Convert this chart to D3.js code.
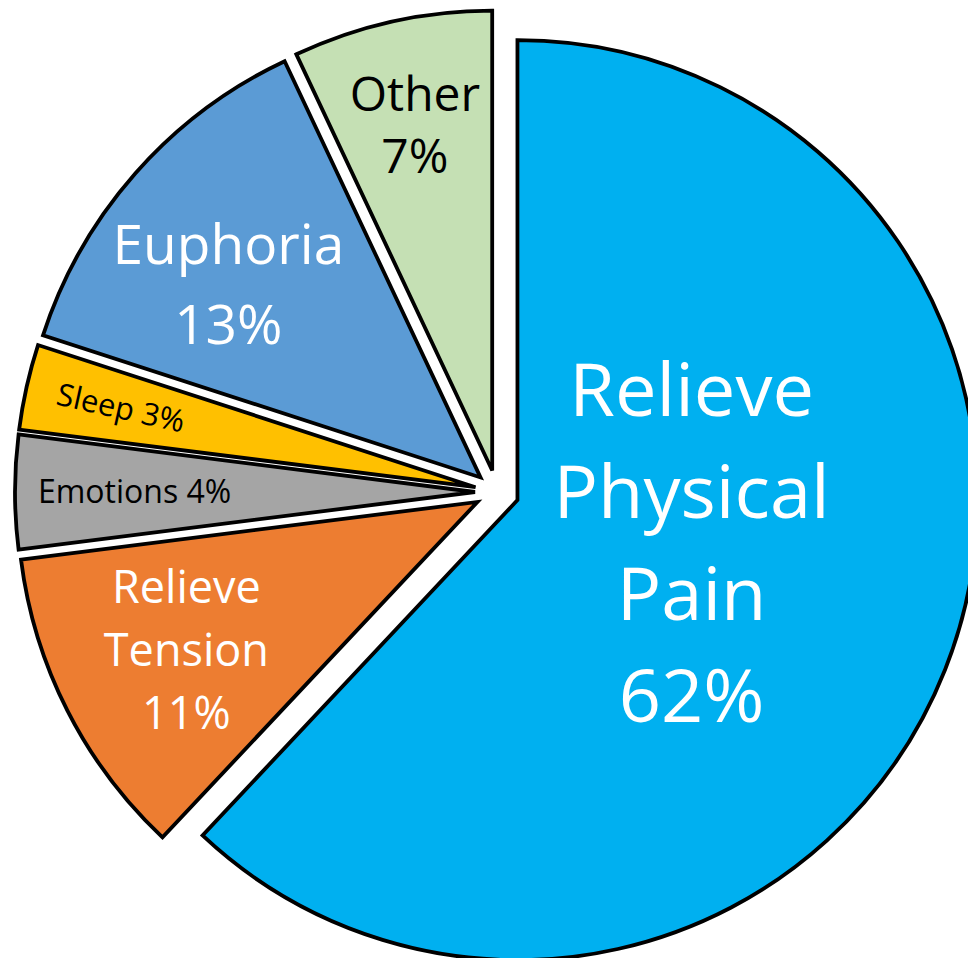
<!DOCTYPE html>
<html>
<head>
<meta charset="utf-8">
<script src="https://cdn.jsdelivr.net/npm/d3@7"></script>
<style>
  html, body { margin: 0; padding: 0; background: #fff; overflow: hidden; }
  svg text { font-family: "Open Sans", sans-serif; }
</style>
</head>
<body>
<div id="chart"></div>
<script>
var categories = ["Relieve Physical Pain", "Relieve Tension", "Emotions", "Sleep", "Euphoria", "Other"];
var percents = [62, 11, 4, 3, 13, 7];
var colors = ["#00B0F0", "#ED7D31", "#A5A5A5", "#FFC000", "#5B9BD5", "#C5E0B4"];
var textColors = ["#fff", "#fff", "#000", "#000", "#fff", "#000"];

// label layout: font size, line step, radius fraction, angle nudge (deg)
var fontSizes = [74, 45, 32, 31, 55, 48];
var lineSteps = [102, 63, 0, 0, 80, 62];
var labelRadius = [0.39, 0.71, 0.74, 0.79, 0.69, 0.77];
var labelNudge = [-7.7, 0, 0, 0, -4, 0];

var width = 968, height = 958;
var cx = 497, cy = 492, radius = 460, explode = 22;

var svg = d3.select("#chart")
  .append("svg")
    .attr("width", width)
    .attr("height", height);

var pie = d3.pie()
  .sort(null)
  .value(function(d) { return d; });

var arc = d3.arc()
  .innerRadius(0)
  .outerRadius(radius);

var slices = pie(percents);

var groups = svg.selectAll("g.slice")
  .data(slices)
  .enter()
  .append("g")
    .attr("class", "slice")
    .attr("transform", function(d) {
      var mid = (d.startAngle + d.endAngle) / 2;
      return "translate(" + (cx + explode * Math.sin(mid)) + "," + (cy - explode * Math.cos(mid)) + ")";
    });

groups.append("path")
  .attr("d", arc)
  .attr("fill", function(d, i) { return colors[i]; })
  .attr("stroke", "#000")
  .attr("stroke-width", 3.8)
  .attr("stroke-linejoin", "miter");

function labelLines(i) {
  if (percents[i] < 5) return [categories[i] + " " + percents[i] + "%"];
  return categories[i].split(" ").concat([percents[i] + "%"]);
}

groups.each(function(d, i) {
  var mid = (d.startAngle + d.endAngle) / 2 + labelNudge[i] * Math.PI / 180;
  var lr = labelRadius[i] * radius;
  var x = lr * Math.sin(mid), y = -lr * Math.cos(mid);
  var lines = labelLines(i);
  var rot = 0;
  // the thin sleep label follows its slice
  if (i === 3) rot = (d.startAngle + d.endAngle) / 2 * 180 / Math.PI - 270;

  var t = d3.select(this).append("text")
    .attr("transform", "translate(" + x + "," + y + ") rotate(" + rot + ")")
    .attr("text-anchor", "middle")
    .attr("fill", textColors[i])
    .attr("font-size", fontSizes[i]);

  lines.forEach(function(line, k) {
    var off = (k - (lines.length - 1) / 2) * lineSteps[i];
    t.append("tspan")
      .attr("x", 0)
      .attr("y", off)
      .attr("dy", "0.35em")
      .text(line);
  });
});
</script>
</body>
</html>
